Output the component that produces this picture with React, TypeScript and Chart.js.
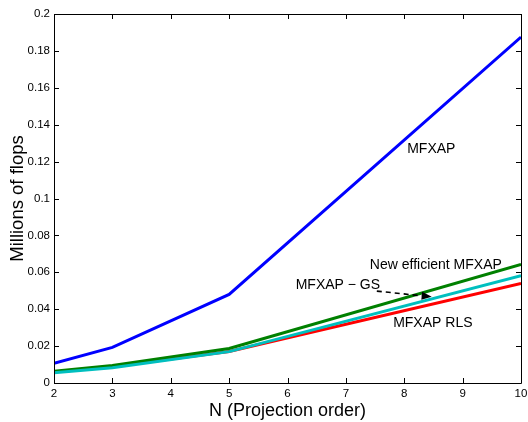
import React, { useEffect, useRef } from "react";
import { Chart, registerables } from "chart.js";

Chart.register(...registerables);

const xValues = [2, 3, 5, 10];
const mfxap = [0.0107, 0.0193, 0.048, 0.1875];
const newEfficient = [0.0063, 0.0095, 0.0187, 0.0643];
const mfxapGS = [0.0055, 0.0083, 0.017, 0.0582];
const mfxapRLS = [0.006, 0.009, 0.0171, 0.054];

const xTickValues = [2, 3, 4, 5, 6, 7, 8, 9, 10];
const xTickLabels = ["2", "3", "4", "5", "6", "7", "8", "9", "10"];
const yTickValues = [0, 0.02, 0.04, 0.06, 0.08, 0.1, 0.12, 0.14, 0.16, 0.18, 0.2];
const yTickLabels = ["0", "0.02", "0.04", "0.06", "0.08", "0.1", "0.12", "0.14", "0.16", "0.18", "0.2"];

// text annotations in data coordinates (left, baseline)
const annotations = [
  { text: "MFXAP", x: 8.05, y: 0.1248 },
  { text: "New efficient MFXAP", x: 7.41, y: 0.0618 },
  { text: "MFXAP \u2212 GS", x: 6.14, y: 0.0509 },
  { text: "MFXAP RLS", x: 7.81, y: 0.0303 },
];
const arrowFrom = { x: 7.53, y: 0.0498 };
const arrowTo = { x: 8.47, y: 0.0467 };

const FONT = "'Liberation Sans', Arial, Helvetica, sans-serif";

const toPts = (ys: number[]) => xValues.map((x, i) => ({ x, y: ys[i] }));

const framePlugin = {
  id: "frameTicks",
  afterDraw(chart: any) {
    const { ctx, chartArea, scales } = chart;
    const { left, right, top, bottom } = chartArea;
    const xs = scales.x;
    const ys = scales.y;
    ctx.save();
    ctx.strokeStyle = "#000";
    ctx.lineWidth = 1;
    ctx.beginPath();
    ctx.rect(Math.round(left) + 0.5, Math.round(top) + 0.5, Math.round(right - left), Math.round(bottom - top));
    ctx.stroke();
    const tl = 5;
    ctx.beginPath();
    xTickValues.forEach((v) => {
      const px = Math.round(xs.getPixelForValue(v)) + 0.5;
      ctx.moveTo(px, bottom);
      ctx.lineTo(px, bottom - tl);
      ctx.moveTo(px, top);
      ctx.lineTo(px, top + tl);
    });
    yTickValues.forEach((v) => {
      const py = Math.round(ys.getPixelForValue(v)) + 0.5;
      ctx.moveTo(left, py);
      ctx.lineTo(left + tl, py);
      ctx.moveTo(right, py);
      ctx.lineTo(right - tl, py);
    });
    ctx.stroke();

    // axis titles
    ctx.fillStyle = "#000";
    ctx.font = `18px ${FONT}`;
    ctx.textAlign = "center";
    ctx.textBaseline = "alphabetic";
    ctx.fillText("N (Projection order)", (left + right) / 2, 416);
    ctx.save();
    ctx.translate(23, (top + bottom) / 2);
    ctx.rotate(-Math.PI / 2);
    ctx.font = `18.5px ${FONT}`;
    ctx.fillText("Millions of flops", 0, 0);
    ctx.restore();

    // annotations
    ctx.font = `14px ${FONT}`;
    ctx.textAlign = "left";
    annotations.forEach((a) => {
      ctx.fillText(a.text, xs.getPixelForValue(a.x), ys.getPixelForValue(a.y));
    });

    // dashed arrow
    const x0 = xs.getPixelForValue(arrowFrom.x);
    const y0 = ys.getPixelForValue(arrowFrom.y);
    const x1 = xs.getPixelForValue(arrowTo.x);
    const y1 = ys.getPixelForValue(arrowTo.y);
    const ang = Math.atan2(y1 - y0, x1 - x0);
    const hl = 10;
    const hw = 4;
    const bx = x1 - hl * Math.cos(ang);
    const by = y1 - hl * Math.sin(ang);
    ctx.setLineDash([5, 4]);
    ctx.lineWidth = 1.6;
    ctx.beginPath();
    ctx.moveTo(x0, y0);
    ctx.lineTo(bx, by);
    ctx.stroke();
    ctx.setLineDash([]);
    ctx.beginPath();
    ctx.moveTo(x1, y1);
    ctx.lineTo(bx + hw * Math.sin(ang), by - hw * Math.cos(ang));
    ctx.lineTo(bx - hw * Math.sin(ang), by + hw * Math.cos(ang));
    ctx.closePath();
    ctx.fill();
    ctx.restore();
  },
};

export default function App() {
  const ref = useRef<HTMLCanvasElement | null>(null);
  useEffect(() => {
    if (!ref.current) return;
    const common = { borderWidth: 3, pointRadius: 0, fill: false, tension: 0 };
    const chart = new Chart(ref.current, {
      type: "line",
      data: {
        datasets: [
          { label: "MFXAP", data: toPts(mfxap), borderColor: "#0000ff", order: 3, ...common },
          { label: "MFXAP RLS", data: toPts(mfxapRLS), borderColor: "#ff0000", order: 2, ...common },
          { label: "New efficient MFXAP", data: toPts(newEfficient), borderColor: "#008000", order: 1, ...common },
          { label: "MFXAP - GS", data: toPts(mfxapGS), borderColor: "#00bfbf", order: 0, ...common },
        ],
      },
      options: {
        animation: false,
        responsive: false,
        maintainAspectRatio: false,
        layout: { padding: { left: 0, right: 7, top: 14, bottom: 0 } },
        plugins: { legend: { display: false }, tooltip: { enabled: false } },
        scales: {
          x: {
            type: "linear",
            min: 2,
            max: 10,
            grid: { display: false, drawTicks: false },
            border: { display: false },
            afterBuildTicks: (s: any) => {
              s.ticks = xTickValues.map((v) => ({ value: v }));
            },
            afterFit: (s: any) => {
              s.height = 39;
              s.paddingLeft = 0;
              s.paddingRight = 0;
            },
            ticks: {
              color: "#000",
              font: { family: FONT, size: 11.5 },
              padding: 4,
              maxRotation: 0,
              autoSkip: false,
              callback: (v: any) => {
                const i = xTickValues.indexOf(Number(v));
                return i >= 0 ? xTickLabels[i] : "";
              },
            },
          },
          y: {
            type: "linear",
            min: 0,
            max: 0.2,
            grid: { display: false, drawTicks: false },
            border: { display: false },
            afterBuildTicks: (s: any) => {
              s.ticks = yTickValues.map((v) => ({ value: v }));
            },
            afterFit: (s: any) => {
              s.width = 54;
              s.paddingTop = 0;
              s.paddingBottom = 0;
            },
            ticks: {
              color: "#000",
              font: { family: FONT, size: 11.5 },
              padding: 4,
              autoSkip: false,
              callback: (v: any) => {
                const i = yTickValues.findIndex((t) => Math.abs(t - Number(v)) < 1e-9);
                return i >= 0 ? yTickLabels[i] : "";
              },
            },
          },
        },
      },
      plugins: [framePlugin],
    });
    return () => chart.destroy();
  }, []);
  return (
    <div style={{ position: "fixed", left: 0, top: 0, width: 528, height: 422, background: "#fff" }}>
      <canvas ref={ref} width={528} height={422} style={{ width: 528, height: 422, display: "block" }} />
    </div>
  );
}
